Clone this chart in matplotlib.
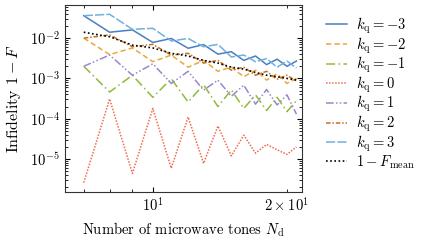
import numpy as np
import matplotlib
matplotlib.use("Agg")
import matplotlib.pyplot as plt

plt.rcParams['font.family'] = 'serif'
plt.rcParams['font.serif'] = ['cmr10', 'DejaVu Serif']
plt.rcParams['mathtext.fontset'] = 'cm'
plt.rcParams['axes.formatter.use_mathtext'] = True
plt.rcParams['axes.unicode_minus'] = False

# number of microwave tones
n_d = np.arange(7, 22)

# infidelity, one list per k_q
inf_km3 = [3.6e-2, 1.4e-2, 1.6e-2, 7.8e-3, 9.8e-3, 5.6e-3, 6.9e-3, 4.0e-3, 4.6e-3, 2.8e-3, 3.6e-3, 2.2e-3, 3.0e-3, 2.0e-3, 2.7e-3]
inf_km2 = [1.0e-2, 3.9e-3, 5.7e-3, 2.6e-3, 3.8e-3, 1.9e-3, 2.8e-3, 1.5e-3, 1.9e-3, 1.1e-3, 1.6e-3, 9.1e-4, 1.3e-3, 7.5e-4, 1.0e-3]
inf_km1 = [2.0e-3, 4.6e-4, 1.2e-3, 3.4e-4, 9.8e-4, 2.6e-4, 7.0e-4, 2.0e-4, 5.2e-4, 1.8e-4, 3.9e-4, 1.6e-4, 3.4e-4, 1.5e-4, 2.8e-4]
inf_k0 = [2.6e-6, 3.1e-4, 4.4e-6, 1.8e-4, 5.9e-6, 1.1e-4, 7.8e-6, 6.6e-5, 1.2e-5, 3.9e-5, 1.4e-5, 2.3e-5, 1.7e-5, 1.3e-5, 2.0e-5]
inf_k1 = [2.0e-3, 3.8e-3, 1.2e-3, 2.3e-3, 7.5e-4, 1.5e-3, 5.1e-4, 9.1e-4, 3.6e-4, 6.8e-4, 2.3e-4, 5.3e-4, 2.2e-4, 3.9e-4, 1.3e-4]
inf_k2 = [1.0e-2, 1.2e-2, 6.1e-3, 7.0e-3, 3.8e-3, 4.2e-3, 2.4e-3, 2.8e-3, 1.6e-3, 1.9e-3, 1.2e-3, 1.5e-3, 9.6e-4, 1.2e-3, 8.5e-4]
inf_k3 = [3.6e-2, 3.9e-2, 1.65e-2, 1.75e-2, 8.5e-3, 9.8e-3, 6.1e-3, 7.0e-3, 3.4e-3, 3.8e-3, 2.6e-3, 3.1e-3, 1.9e-3, 2.7e-3, 1.8e-3]
inf_mean = [1.4e-2, 1.08e-2, 6.7e-3, 5.7e-3, 4.2e-3, 3.6e-3, 2.8e-3, 2.4e-3, 1.9e-3, 1.7e-3, 1.4e-3, 1.2e-3, 1.1e-3, 1.0e-3, 9.1e-4]

series = [inf_km3, inf_km2, inf_km1, inf_k0, inf_k1, inf_k2, inf_k3]
k_values = [-3, -2, -1, 0, 1, 2, 3]
colors = ['#4a7fc1', '#e8a83a', '#8fba3c', '#f26b4f', '#9b86cc', '#c8701e', '#6fb0e0']
styles = ['-', (0, (3.5, 2)), (0, (6, 2.2, 1, 2.2)), (0, (1, 1)),
          (0, (5, 1.5, 1, 1.5, 1, 1.5)), (0, (3, 1.2, 1, 1.2)), (0, (6, 1.4))]

fig = plt.figure(figsize=(4.27, 2.41), dpi=100)
ax = fig.add_axes([0.152, 0.203, 0.555, 0.776])

for k, vals, c, ls in zip(k_values, series, colors, styles):
    ax.plot(n_d, vals, color=c, linestyle=ls, lw=1.1, label=r'$k_\mathrm{q} = %d$' % k)
ax.plot(n_d, inf_mean, color='black', linestyle=(0, (1, 1.5)), lw=1.2, label=r'$1 - F_\mathrm{mean}$')

ax.set_xscale('log')
ax.set_yscale('log')
ax.set_xlim(6.35, 21.6)
ax.set_ylim(10**-5.82, 10**-1.18)
ax.tick_params(which='both', direction='in', top=True, right=True, labelsize=10.5)
ax.tick_params(which='major', length=3.5)
ax.tick_params(which='minor', length=2)
ax.set_xlabel(r'Number of microwave tones $N_\mathrm{d}$', fontsize=10.5)
ax.set_ylabel(r'Infidelity $1 - F$', fontsize=11.5, labelpad=5)
for s in ax.spines.values():
    s.set_color('#333333')

fig.legend(loc='upper left', bbox_to_anchor=(0.74, 0.978), frameon=False,
           fontsize=10.5, handlelength=1.45, labelspacing=-0.05, handletextpad=0.6,
           borderaxespad=0.3)

fig.savefig('out.png', dpi=100)
